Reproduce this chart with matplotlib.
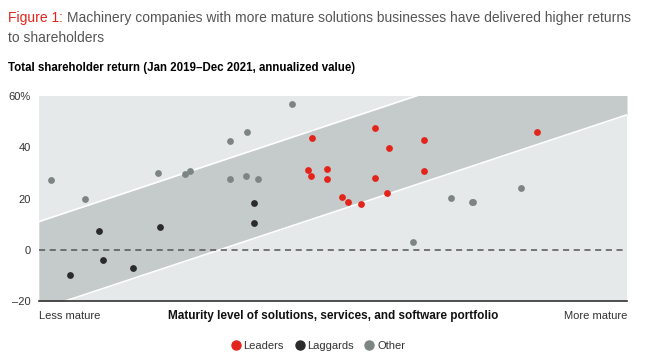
import matplotlib
matplotlib.use("Agg")
import matplotlib.pyplot as plt
import numpy as np

plt.rcParams['font.family'] = ['Liberation Sans', 'DejaVu Sans']

# maturity score (0 = less mature, 100 = more mature) and annualized TSR (%)
leaders_x = [46.4, 45.8, 46.2, 48.9, 49.0, 57.1, 59.5, 65.5, 65.5, 57.1, 51.6, 52.5, 54.7, 59.2, 84.7]
leaders_y = [43.8, 31.3, 28.8, 31.6, 27.7, 47.5, 39.7, 42.9, 30.8, 28.0, 20.8, 18.7, 17.7, 22.2, 46.0]

laggards_x = [5.3, 10.2, 10.9, 16.0, 20.6, 36.6, 36.6]
laggards_y = [-9.9, 7.5, -4.0, -7.3, 8.7, 18.1, 10.3]

other_x = [2.0, 7.8, 20.2, 24.9, 25.7, 32.5, 35.4, 32.5, 35.2, 37.2, 43.0, 70.0, 73.6, 73.8, 82.0, 63.6]
other_y = [27.3, 19.8, 29.9, 29.5, 30.6, 42.3, 45.9, 27.7, 29.0, 27.6, 57.0, 20.4, 18.6, 18.7, 24.1, 3.1]

# corridor edges: value at left edge and at right edge
band_upper = [11.0, 87.5]
band_lower = [-23.4, 52.7]

yticks = [-20, 0, 20, 40, 60]
ytick_labels = ['\u201320', '0', '20', '40', '60%']

RED = '#e3241b'
DARK = '#2b2b2b'
GRAY = '#7d8583'
BG = '#e6e9e9'
BAND = '#c4cbca'

fig = plt.figure(figsize=(6.5, 3.56), dpi=100)
ax = fig.add_axes([0.06, 0.1545, 0.9046, 0.5755])
ax.set_facecolor(BG)

bx = np.array([0, 100])
ax.fill_between(bx, band_lower, band_upper, color=BAND, lw=0, zorder=1)
ax.plot(bx, band_upper, color='white', lw=1.2, zorder=2)
ax.plot(bx, band_lower, color='white', lw=1.2, zorder=2)
ax.axhline(0, color='#555555', lw=1.1, ls=(0, (4, 3)), zorder=3)

ax.scatter(other_x, other_y, s=24, color=GRAY, lw=0, zorder=4)
ax.scatter(laggards_x, laggards_y, s=24, color=DARK, lw=0, zorder=4)
ax.scatter(leaders_x, leaders_y, s=24, color=RED, lw=0, zorder=4)

ax.set_xlim(0, 100)
ax.set_ylim(-20, 60)
ax.set_xticks([])
ax.set_yticks(yticks)
ax.set_yticklabels(ytick_labels, fontsize=8, color='#333333')
ax.tick_params(axis='y', length=0, pad=6)
for s in ['top', 'right', 'left']:
    ax.spines[s].set_visible(False)
ax.spines['bottom'].set_color('#333333')
ax.spines['bottom'].set_linewidth(1.2)

# titles
t1 = fig.text(0.013, 0.949, 'Figure 1:', color=RED, fontsize=10, va='center')
ax.annotate('Machinery companies with more mature solutions businesses have delivered higher returns',
            xy=(1, 0.5), xycoords=t1, xytext=(3, 0), textcoords='offset points',
            color='#555555', fontsize=10, va='center', annotation_clip=False)
fig.text(0.013, 0.893, 'to shareholders', color='#555555', fontsize=10, va='center')
fig.text(0.013, 0.809, 'Total shareholder return (Jan 2019\u2013Dec 2021, annualized value)',
         color='black', fontsize=8.3, weight='bold', va='center')

# x-axis labels
fig.text(0.06, 0.112, 'Less mature', fontsize=8, color='#333333', va='center', ha='left')
fig.text(0.9646, 0.112, 'More mature', fontsize=8, color='#333333', va='center', ha='right')
fig.text(0.512, 0.112, 'Maturity level of solutions, services, and software portfolio',
         fontsize=8.5, weight='bold', color='#111111', va='center', ha='center')

# legend
handles = [plt.Line2D([], [], marker='o', ls='', color=c, markersize=6.5) for c in [RED, DARK, GRAY]]
fig.legend(handles, ['Leaders', 'Laggards', 'Other'], loc='center', bbox_to_anchor=(0.488, 0.027),
           ncol=3, frameon=False, fontsize=8, handletextpad=0.1, columnspacing=0.8,
           handlelength=1.2, labelcolor='#333333')

fig.savefig('out.png', dpi=100)
